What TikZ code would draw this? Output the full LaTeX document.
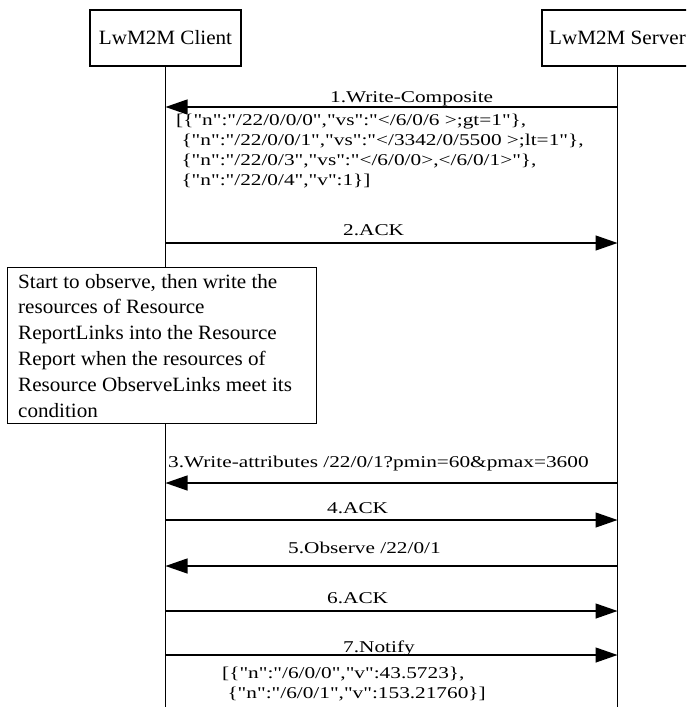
\documentclass[tikz,border=0pt]{standalone}
\usepackage{fontspec}
\setmainfont{Liberation Serif}
\newfontfamily\lblfont[FakeStretch=1.29]{Liberation Serif}
\newfontfamily\notefont[FakeStretch=1.04]{Liberation Serif}
\usetikzlibrary{arrows.meta}
\begin{document}
\begin{tikzpicture}[x=1pt,y=-1pt,
  actor/.style={draw, line width=1.3pt, minimum width=151pt, minimum height=56pt, inner sep=0pt, font=\notefont\fontsize{20.3}{24}\selectfont},
  life/.style={line width=1.3pt},
  msg/.style={line width=1.3pt, -{Triangle[length=22pt,width=15pt]}},
  lbl/.style={anchor=base west, inner sep=0pt, font=\lblfont\fontsize{16.5}{20}\selectfont},
  notebox/.style={draw, line width=1.3pt, anchor=north west, minimum width=309pt, minimum height=156pt, inner sep=0pt},
  notetext/.style={anchor=base west, inner sep=0pt, font=\notefont\fontsize{20.3}{25.8}\selectfont}
]
\useasboundingbox (0,0) rectangle (686,707);
\clip (0,0) rectangle (686,707);

% actors
\node[actor] (client) at (165.5,38) {LwM2M Client};
\node[actor] (server) at (617.5,38) {LwM2M Server};
\coordinate (cbot) at (165.5,707);
\coordinate (sbot) at (617.5,707);

% note box
\node[notebox] (note) at (7,267) {};
\node[notetext] (notetxt) at (18,288) {\begin{tabular}[t]{@{}l@{}}
Start to observe, then write the\\
resources of Resource\\
ReportLinks into the Resource\\
Report when the resources of\\
Resource ObserveLinks meet its\\
condition
\end{tabular}};

% lifelines
\draw[life] (client.south) -- (client.south |- note.north);
\draw[life] (client.south |- note.south) -- (cbot);
\draw[life] (server.south) -- (sbot);

% message end points
\coordinate (c1) at (165.5,107); \coordinate (s1) at (617.5,107);
\coordinate (c2) at (165.5,243); \coordinate (s2) at (617.5,243);
\coordinate (c3) at (165.5,483); \coordinate (s3) at (617.5,483);
\coordinate (c4) at (165.5,520); \coordinate (s4) at (617.5,520);
\coordinate (c5) at (165.5,566); \coordinate (s5) at (617.5,566);
\coordinate (c6) at (165.5,611); \coordinate (s6) at (617.5,611);
\coordinate (c7) at (165.5,655); \coordinate (s7) at (617.5,655);

% messages
\draw[msg] (s1) -- (c1);
\draw[msg] (c2) -- (s2);
\draw[msg] (s3) -- (c3);
\draw[msg] (c4) -- (s4);
\draw[msg] (s5) -- (c5);
\draw[msg] (c6) -- (s6);
\draw[msg] (c7) -- (s7);

% labels
\node[lbl] (m1) at (330,102) {1.Write-Composite};
\node[lbl] (j1) at (176,125) {\begin{tabular}[t]{@{}l@{}}
[\{"n":"/22/0/0/0","vs":"</6/0/6 >;gt=1"\},\\
\ \{"n":"/22/0/0/1","vs":"</3342/0/5500 >;lt=1"\},\\
\ \{"n":"/22/0/3","vs":"</6/0/0>,</6/0/1>"\},\\
\ \{"n":"/22/0/4","v":1\}]
\end{tabular}};
\node[lbl] (m2) at (343,235) {2.ACK};
\node[lbl] (m3) at (168,467) {3.Write-attributes /22/0/1?pmin=60\&pmax=3600};
\node[lbl] (m4) at (327,513) {4.ACK};
\node[lbl] (m5) at (288,553) {5.Observe /22/0/1};
\node[lbl] (m6) at (327,603) {6.ACK};
\node[lbl] (m7) at (343,652) {7.Notify};
\node[lbl] (j7) at (222,678) {\begin{tabular}[t]{@{}l@{}}
[\{"n":"/6/0/0","v":43.5723\},\\
\ \{"n":"/6/0/1","v":153.21760\}]
\end{tabular}};
\end{tikzpicture}
\end{document}
